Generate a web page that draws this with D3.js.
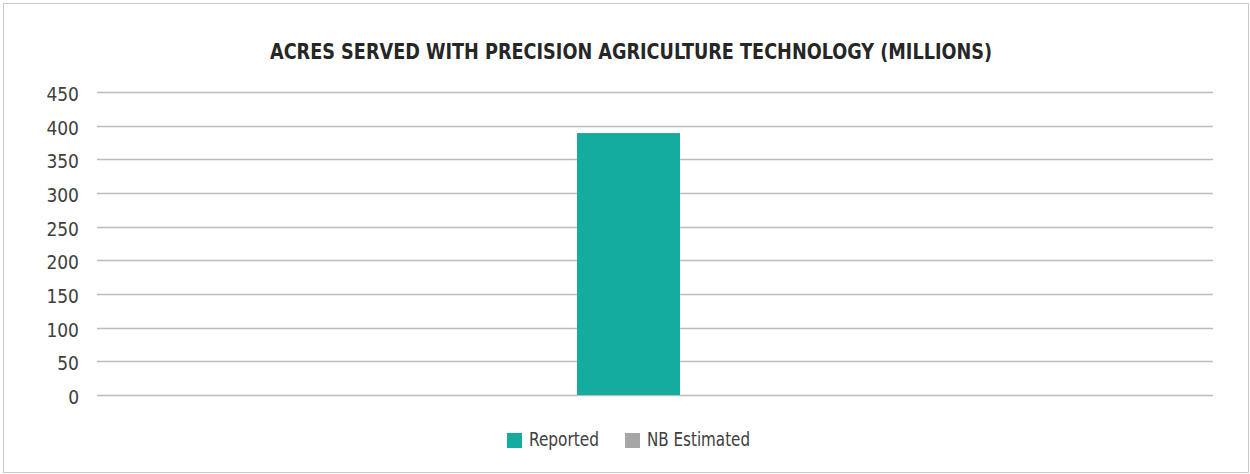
<!DOCTYPE html>
<html>
<head>
<meta charset="utf-8">
<script src="https://cdn.jsdelivr.net/npm/d3@7"></script>
<style>
  html, body { margin: 0; padding: 0; background: #fff; }
  svg { display: block; }
  text { font-family: "DejaVu Sans Condensed", "Liberation Sans", Arial, sans-serif; }
</style>
</head>
<body>
<svg id="chart" width="1250" height="474"></svg>
<script>
// Chart data
const title = "ACRES SERVED WITH PRECISION AGRICULTURE TECHNOLOGY (MILLIONS)";
const seriesNames = ["Reported", "NB Estimated"];
const seriesValues = [389, 0];
const seriesColors = ["#13ac9e", "#a6a6a6"];
const yTicks = [0, 50, 100, 150, 200, 250, 300, 350, 400, 450];

const fontFamily = "'DejaVu Sans Condensed', 'Liberation Sans', Arial, sans-serif";
const svg = d3.select("#chart");
const width = 1250, height = 474;
const margin = { top: 92, right: 37, bottom: 79, left: 97 };
const plotW = width - margin.left - margin.right;
const plotH = height - margin.top - margin.bottom;

// outer frame
svg.append("rect")
  .attr("x", 3.5).attr("y", 3.5)
  .attr("width", width - 5).attr("height", height - 5)
  .attr("fill", "#fff").attr("stroke", "#c9c9c9").attr("stroke-width", 1);

// title
svg.append("text")
  .attr("x", 631).attr("y", 59)
  .attr("text-anchor", "middle")
  .attr("font-size", 21).attr("font-weight", "bold")
  .attr("fill", "#262626")
  .attr("textLength", 722).attr("lengthAdjust", "spacingAndGlyphs")
  .text(title);

const g = svg.append("g").attr("transform", `translate(${margin.left},${margin.top})`);

const y = d3.scaleLinear().domain([0, 450]).range([plotH, 0]);
const x = d3.scaleBand().domain(seriesNames)
  .range([plotW * 0.4301, plotW * 0.6147]).paddingInner(0).paddingOuter(0);

// gridlines
g.selectAll("line.grid").data(yTicks).enter().append("line")
  .attr("class", "grid")
  .attr("x1", 0).attr("x2", plotW)
  .attr("y1", d => Math.round(y(d)) + 0.5).attr("y2", d => Math.round(y(d)) + 0.5)
  .attr("stroke", "#bcbcbc").attr("stroke-width", 1.5);

// y axis labels
const yAxis = d3.axisLeft(y).tickValues(yTicks).tickSize(0).tickPadding(18);
const ya = g.append("g").call(yAxis);
ya.select(".domain").remove();
ya.selectAll("text")
  .attr("font-size", 19).attr("fill", "#404040")
  .attr("dy", "0.45em")
  .style("font-family", fontFamily);

// bars
g.selectAll("rect.bar").data(seriesNames.map((s, i) => ({ s, v: seriesValues[i], c: seriesColors[i] })))
  .enter().append("rect")
  .attr("class", "bar")
  .attr("x", d => x(d.s))
  .attr("width", x.bandwidth())
  .attr("y", d => y(d.v))
  .attr("height", d => plotH - y(d.v))
  .attr("fill", d => d.c);

// legend
const legendItems = [
  { name: seriesNames[0], color: seriesColors[0], x: 507, w: 70 },
  { name: seriesNames[1], color: seriesColors[1], x: 625, w: 103 }
];
const lg = svg.append("g");
legendItems.forEach(it => {
  lg.append("rect").attr("x", it.x).attr("y", 433).attr("width", 15).attr("height", 15).attr("fill", it.color);
  lg.append("text").attr("x", it.x + 22).attr("y", 446)
    .attr("font-size", 19).attr("fill", "#404040")
    .attr("textLength", it.w).attr("lengthAdjust", "spacingAndGlyphs")
    .text(it.name);
});
</script>
</body>
</html>
